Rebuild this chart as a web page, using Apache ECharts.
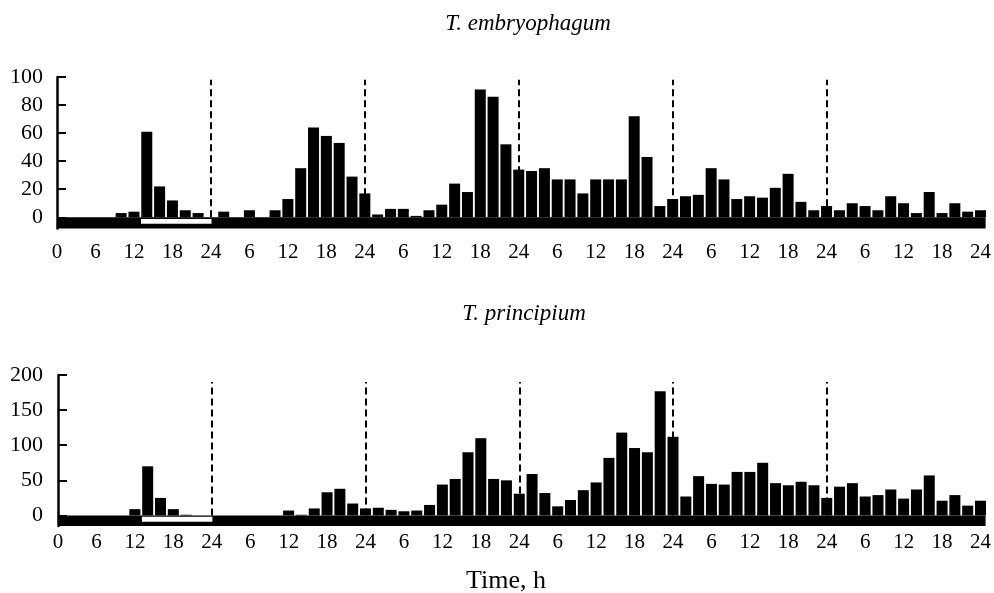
<!DOCTYPE html>
<html>
<head>
<meta charset="utf-8">
<title>Emergence rhythm</title>
<script src="https://cdn.jsdelivr.net/npm/echarts@6/dist/echarts.min.js"></script>
<style>
  html, body { margin: 0; padding: 0; background: #fff; }
  #main { width: 994px; height: 593px; }
</style>
</head>
<body>
<div id="main"></div>
<script>
  // time, h (every 2 h over 6 days)
  var hours = [
    0, 2, 4, 6, 8, 10, 12, 14, 16, 18, 20, 22,
    24, 26, 28, 30, 32, 34, 36, 38, 40, 42, 44, 46,
    48, 50, 52, 54, 56, 58, 60, 62, 64, 66, 68, 70,
    72, 74, 76, 78, 80, 82, 84, 86, 88, 90, 92, 94,
    96, 98, 100, 102, 104, 106, 108, 110, 112, 114, 116, 118,
    120, 122, 124, 126, 128, 130, 132, 134, 136, 138, 140, 142,
    144
  ];
  // T. embryophagum
  var embryophagum = [
    0, 0, 0, 0, 0, 3, 4, 61, 22, 12, 5, 3,
    0, 4, 0, 5, 0, 5, 13, 35, 64, 58, 53, 29,
    17, 2, 6, 6, 1, 5, 9, 24, 18, 91, 86, 52,
    34, 33, 35, 27, 27, 17, 27, 27, 27, 72, 43, 8,
    13, 15, 16, 35, 27, 13, 15, 14, 21, 31, 11, 5,
    8, 5, 10, 8, 5, 15, 10, 3, 18, 3, 10, 4,
    5
  ];
  // T. principium
  var principium = [
    0, 0, 0, 0, 0, 0, 9, 70, 25, 9, 1, 0,
    0, 0, 0, 0, 0, 0, 7, 1, 10, 33, 38, 17,
    10, 11, 8, 6, 7, 15, 44, 52, 90, 110, 52, 50,
    31, 59, 32, 13, 22, 36, 47, 82, 118, 96, 90, 177,
    112, 27, 56, 45, 44, 62, 62, 75, 46, 43, 48, 43,
    25, 41, 46, 27, 29, 37, 24, 37, 57, 21, 29, 14,
    21
  ];

  var xTicks = [0, 6, 12, 18, 24, 30, 36, 42, 48, 54, 60, 66, 72, 78, 84, 90, 96, 102, 108, 114, 120, 126, 132, 138, 144];
  var xTickLabels = ['0', '6', '12', '18', '24', '6', '12', '18', '24', '6', '12', '18', '24',
    '6', '12', '18', '24', '6', '12', '18', '24', '6', '12', '18', '24'];
  var dayBreaks = [24, 48, 72, 96, 120];
  var topTicks = [0, 20, 40, 60, 80, 100];
  var bottomTicks = [0, 50, 100, 150, 200];
  // light period, shown as the white strip in the time bar
  var lightPeriod = [13.1, 24.1];

  var serif = "'Liberation Serif', 'DejaVu Serif', serif";
  var xEnd = 144.8;

  function pairs(vals) {
    return hours.map(function (h, i) { return [h, vals[i]]; });
  }

  function xAxisFor(gridIndex, margin) {
    return {
      type: 'value', gridIndex: gridIndex, min: 0, max: xEnd,
      axisLine: { show: false }, axisTick: { show: false }, splitLine: { show: false },
      axisLabel: {
        customValues: xTicks, margin: margin,
        color: '#000', fontFamily: serif, fontSize: 21,
        formatter: function (v) {
          var i = xTicks.indexOf(Math.round(v));
          return i < 0 ? '' : xTickLabels[i];
        }
      }
    };
  }

  function yAxisFor(gridIndex, min, max, ticks, margin) {
    return {
      type: 'value', gridIndex: gridIndex, min: min, max: max,
      splitLine: { show: false },
      axisLine: { show: true, lineStyle: { color: '#000', width: 2.5 } },
      axisTick: { show: true, inside: true, length: 9, customValues: ticks, lineStyle: { color: '#000', width: 2 } },
      axisLabel: { customValues: ticks, margin: margin, color: '#000', fontFamily: serif, fontSize: 22 }
    };
  }

  function barSeries(idx, vals, bandLow, lightLow, lightHigh, dashTop) {
    return {
      type: 'bar', xAxisIndex: idx, yAxisIndex: idx,
      data: pairs(vals), barWidth: 11,
      itemStyle: { color: '#000' },
      markArea: {
        silent: true, label: { show: false },
        itemStyle: { color: '#000' },
        data: [
          [{ coord: [0, bandLow] }, { coord: [xEnd, 0] }],
          [{ coord: [lightPeriod[0], lightLow], itemStyle: { color: '#fff' } }, { coord: [lightPeriod[1], lightHigh] }]
        ]
      },
      markLine: {
        silent: true, symbol: 'none', label: { show: false },
        lineStyle: { color: '#000', width: 2, type: [7, 4] },
        data: dayBreaks.map(function (d) { return [{ coord: [d, 0] }, { coord: [d, dashTop] }]; })
      }
    };
  }

  var chart = echarts.init(document.getElementById('main'));
  chart.setOption({
    animation: false,
    backgroundColor: '#fff',
    grid: [
      { left: 57, width: 929, top: 77, height: 151.5 },
      { left: 58, width: 930, top: 375, height: 151 }
    ],
    xAxis: [xAxisFor(0, 13), xAxisFor(1, 6)],
    yAxis: [yAxisFor(0, -8, 100, topTicks, 14), yAxisFor(1, -15, 200, bottomTicks, 15)],
    series: [
      barSeries(0, embryophagum, -8, -1.3, -4.6, 98),
      barSeries(1, principium, -15, -2, -9, 190)
    ],
    graphic: [
      { type: 'text', x: 528, y: 24, style: { text: 'T. embryophagum', fill: '#000', font: 'italic 23px ' + serif, align: 'center', verticalAlign: 'middle' } },
      { type: 'text', x: 524, y: 314, style: { text: 'T. principium', fill: '#000', font: 'italic 23px ' + serif, align: 'center', verticalAlign: 'middle' } },
      { type: 'text', x: 506, y: 581, style: { text: 'Time, h', fill: '#000', font: '26px ' + serif, align: 'center', verticalAlign: 'middle' } }
    ]
  });
</script>
</body>
</html>
